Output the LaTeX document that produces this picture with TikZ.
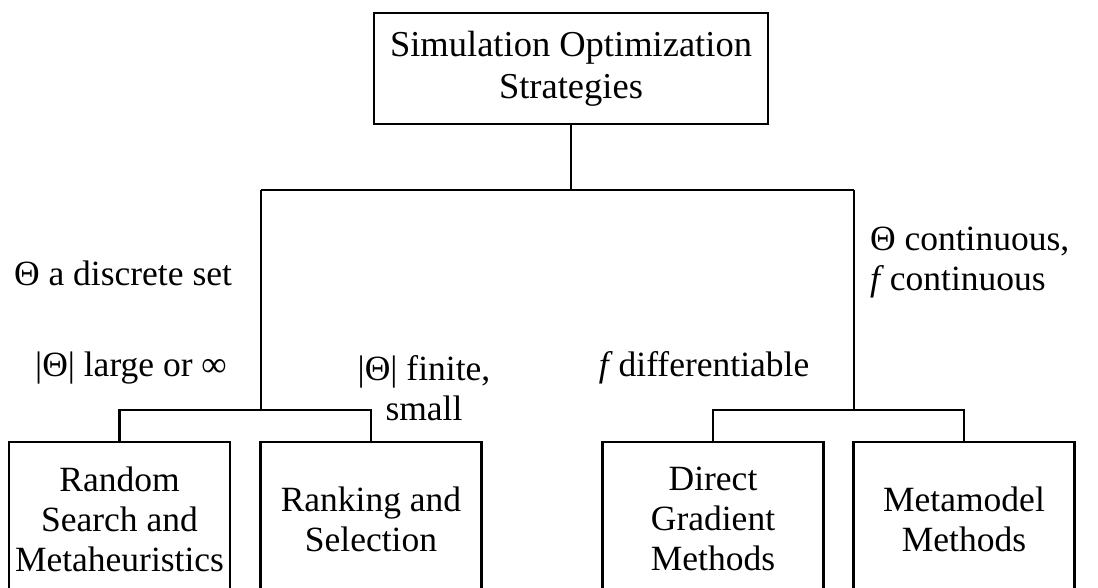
\documentclass[tikz,border=0pt]{standalone}
\usepackage{fontspec}
\setmainfont{Liberation Serif}
\begin{document}
\begin{tikzpicture}[x=1pt,y=-1pt,line width=2.1pt,
  txt/.style={font=\fontsize{35.5}{40}\selectfont},
  box/.style={txt,draw,rectangle,minimum width=221pt,minimum height=154pt,align=center,inner sep=0pt},
  lbl/.style={txt,align=center,inner sep=0pt}]
\useasboundingbox (0,0) rectangle (1098,588);
\clip (0,0) rectangle (1098,588);
\node[box,minimum width=394pt,minimum height=111pt,font=\fontsize{36.5}{42}\selectfont] (top) at (571,68.5) {Simulation Optimization\\Strategies};
\node[box] (b1) at (119.5,519) {Random\\Search and\\Metaheuristics};
\node[box] (b2) at (371,519) {Ranking and\\Selection};
\node[box] (b3) at (713,519) {Direct\\Gradient\\Methods};
\node[box] (b4) at (964,519) {Metamodel\\Methods};
\coordinate (jL) at (261,190);
\coordinate (jR) at (854,190);
\coordinate (kL) at (261,410);
\coordinate (kR) at (854,410);
\draw (top.south) -- (top.south |- jL);
\draw (jL) -- (jR);
\draw (jL) -- (kL);
\draw (jR) -- (kR);
\draw (b1.north) |- (kL) -| (b2.north);
\draw (b3.north) |- (kR) -| (b4.north);
\node[lbl] (l1) at (123,273) {Θ a discrete set};
\node[lbl] (l2) at (131,368) {|Θ| large or ∞};
\node[lbl] (l3) at (424,388) {|Θ| finite,\\small};
\node[lbl] (l4) at (704,368) {\textit{f}\,differentiable};
\node[lbl,align=left,anchor=west] (l5) at (869,263) {Θ continuous,\\\textit{f}\,continuous};
\end{tikzpicture}
\end{document}
